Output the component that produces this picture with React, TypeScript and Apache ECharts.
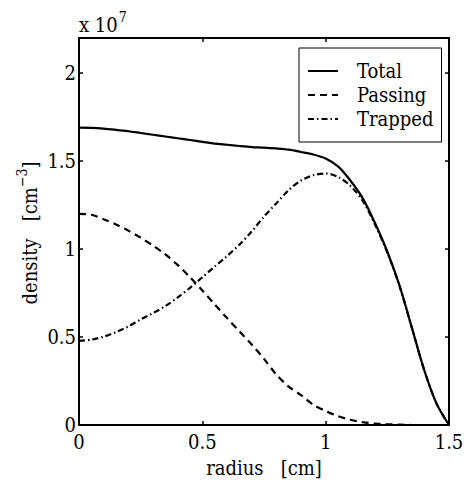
import React, { useEffect, useRef } from "react";
import * as echarts from "echarts";

// radius [cm], sampled every 0.05 cm
const radius = [
  0, 0.05, 0.1, 0.15, 0.2, 0.25, 0.3, 0.35, 0.4, 0.45, 0.5, 0.55, 0.6, 0.65, 0.7, 0.75,
  0.8, 0.85, 0.9, 0.95, 1.0, 1.05, 1.1, 1.15, 1.2, 1.25, 1.3, 1.35, 1.4, 1.45, 1.5,
];
// densities in units of 1e7 cm^-3
const total = [
  1.69, 1.689, 1.685, 1.678, 1.67, 1.66, 1.65, 1.64, 1.63, 1.62, 1.61, 1.6, 1.593, 1.586, 1.58, 1.577,
  1.572, 1.565, 1.552, 1.538, 1.515, 1.47, 1.39, 1.29, 1.148, 0.985, 0.79, 0.55, 0.31, 0.12, 0,
];
const passing = [
  1.2, 1.195, 1.17, 1.14, 1.105, 1.065, 1.02, 0.97, 0.91, 0.84, 0.765, 0.686, 0.608, 0.533, 0.458, 0.376,
  0.287, 0.218, 0.17, 0.115, 0.08, 0.05, 0.03, 0.016, 0.008, 0.004, 0.002, 0, 0, 0, 0,
];
const trapped = [
  0.478, 0.485, 0.502, 0.528, 0.56, 0.6, 0.636, 0.676, 0.725, 0.78, 0.84, 0.9, 0.96, 1.025, 1.1, 1.185,
  1.26, 1.335, 1.39, 1.42, 1.43, 1.41, 1.36, 1.275, 1.14, 0.981, 0.788, 0.55, 0.31, 0.12, 0,
];
const xTicks = [0, 0.5, 1, 1.5];

const FONT = "'DejaVu Serif Condensed', 'DejaVu Serif'";
const FS = 20;

export default function App() {
  const ref = useRef<HTMLDivElement>(null);

  useEffect(() => {
    if (!ref.current) return;
    const chart = echarts.init(ref.current, null, { renderer: "svg" });
    const pts = (ys: number[]) => radius.map((r, i) => [r, ys[i]]);
    const axisLine = { show: true, onZero: false, lineStyle: { color: "#000", width: 2 } };
    const tickIn = { show: true, inside: true, length: 4, lineStyle: { color: "#000", width: 1.5 } };
    const lineSeries = (name: string, ys: number[], type: any) => ({
      name,
      type: "line",
      data: pts(ys),
      showSymbol: false,
      symbol: "none",
      smooth: 0.3,
      lineStyle: { color: "#000", width: 2.2, type },
      itemStyle: { color: "#000" },
    });

    chart.setOption({
      animation: false,
      backgroundColor: "#fff",
      textStyle: { fontFamily: FONT },
      grid: { left: 79, top: 38, right: 21, bottom: 55, containLabel: false },
      legend: {
        orient: "vertical",
        left: 299,
        top: 48,
        padding: [13, 8, 13, 8],
        itemGap: 4,
        itemWidth: 30,
        itemHeight: 14,
        backgroundColor: "#fff",
        borderColor: "#000",
        borderWidth: 1,
        itemStyle: { opacity: 0 },
        textStyle: { fontFamily: FONT, fontSize: FS, color: "#000", padding: [0, 0, 0, 14] },
        data: ["Total", "Passing", "Trapped"],
      },
      xAxis: [
        {
          type: "value",
          min: 0,
          max: 1.5,
          interval: 0.5,
          position: "bottom",
          axisLine,
          axisTick: tickIn,
          splitLine: { show: false },
          axisLabel: {
            color: "#000",
            fontFamily: FONT,
            fontSize: FS,
            margin: 7,
            formatter: (v: number) => (xTicks.includes(v) ? String(v) : ""),
          },
          name: "radius   [cm]",
          nameLocation: "middle",
          nameGap: 33,
          nameTextStyle: { color: "#000", fontFamily: FONT, fontSize: FS },
        },
        {
          type: "value",
          min: 0,
          max: 1.5,
          interval: 0.5,
          position: "top",
          axisLine,
          axisTick: tickIn,
          axisLabel: { show: false },
          splitLine: { show: false },
        },
      ],
      yAxis: [
        {
          type: "value",
          min: 0,
          max: 2.2,
          interval: 0.5,
          position: "left",
          axisLine,
          axisTick: tickIn,
          splitLine: { show: false },
          axisLabel: {
            color: "#000",
            fontFamily: FONT,
            fontSize: FS,
            margin: 3,
            showMaxLabel: false,
          },
        },
        {
          type: "value",
          min: 0,
          max: 2.2,
          interval: 0.5,
          position: "right",
          axisLine,
          axisTick: tickIn,
          axisLabel: { show: false },
          splitLine: { show: false },
        },
      ],
      graphic: [
        {
          type: "text",
          left: 79,
          top: 10,
          style: {
            text: "{b|x 10}{s|7}",
            fill: "#000",
            rich: {
              b: { fontFamily: FONT, fontSize: FS, fill: "#000", verticalAlign: "bottom" },
              s: { fontFamily: FONT, fontSize: 14, fill: "#000", verticalAlign: "bottom", padding: [0, 0, 11, 1] },
            },
          },
        },
        {
          type: "text",
          x: 27,
          y: 233,
          rotation: Math.PI / 2,
          style: {
            text: "{b|density   [cm}{s|−3}{b|]}",
            align: "center",
            verticalAlign: "middle",
            fill: "#000",
            rich: {
              b: { fontFamily: FONT, fontSize: FS, fill: "#000", verticalAlign: "bottom" },
              s: { fontFamily: FONT, fontSize: 14, fill: "#000", verticalAlign: "bottom", padding: [0, 0, 11, 0] },
            },
          },
        },
      ],
      series: [
        lineSeries("Total", total, "solid"),
        lineSeries("Passing", passing, [7, 5]),
        lineSeries("Trapped", trapped, [6, 3, 1.5, 3]),
      ],
    });

    return () => chart.dispose();
  }, []);

  return <div ref={ref} style={{ width: 470, height: 483, position: "absolute", left: 0, top: 0 }} />;
}
